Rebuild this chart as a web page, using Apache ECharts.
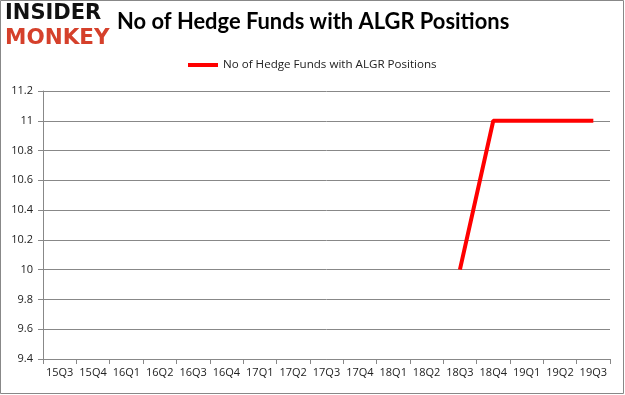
<!DOCTYPE html>
<html><head><meta charset="utf-8">
<script src="https://cdn.jsdelivr.net/npm/echarts@6/dist/echarts.min.js"></script>
<style>html,body{margin:0;padding:0;background:#fff}#c{width:625px;height:395px}</style>
</head><body><div id="c"></div>
<script>
const categories = ['15Q3','15Q4','16Q1','16Q2','16Q3','16Q4','17Q1','17Q2','17Q3','17Q4','18Q1','18Q2','18Q3','18Q4','19Q1','19Q2','19Q3'];
const seriesName = 'No of Hedge Funds with ALGR Positions';
const values = [null,null,null,null,null,null,null,null,null,null,null,null,10,11,11,11,11];
const yTicks = {min: 9.4, max: 11.2, interval: 0.2};

const chart = echarts.init(document.getElementById('c'));
chart.setOption({
  animation: false,
  backgroundColor: '#fff',
  title: {
    text: 'No of Hedge Funds with ALGR Positions',
    left: 117, top: 11, padding: 0,
    textStyle: {fontFamily: 'Lato', fontWeight: 'bold', fontSize: 21.9, color: '#000'}
  },
  graphic: [
    {type: 'rect', shape: {x: 0.5, y: 0.5, width: 623, height: 393}, style: {fill: 'none', stroke: '#888', lineWidth: 1}},
    {type: 'text', left: 5, top: 3, style: {text: 'INSIDER', fontFamily: 'DejaVu Sans', fontWeight: 'bold', fontSize: 21, fill: '#111'}},
    {type: 'text', left: 5, top: 27, style: {text: 'MONKEY', fontFamily: 'DejaVu Sans', fontWeight: 'bold', fontSize: 21.5, fill: '#d5402b'}}
  ],
  legend: {
    data: [seriesName],
    top: 54, left: 183,
    itemWidth: 30, itemHeight: 4, itemGap: 5,
    icon: 'rect',
    textStyle: {fontFamily: 'Open Sans', fontSize: 11.6, color: '#222'}
  },
  grid: {left: 43, right: 15, top: 91, bottom: 36},
  xAxis: {
    type: 'category', data: categories, boundaryGap: true,
    axisLine: {lineStyle: {color: '#888'}},
    axisTick: {show: true, alignWithLabel: false, length: 5, lineStyle: {color: '#888'}},
    axisLabel: {fontFamily: 'Open Sans', fontSize: 11, color: '#222', margin: 8, interval: 0}
  },
  yAxis: {
    type: 'value', min: yTicks.min, max: yTicks.max, interval: yTicks.interval,
    axisLine: {show: true, lineStyle: {color: '#888'}},
    axisTick: {show: true, length: 5, lineStyle: {color: '#888'}},
    splitLine: {lineStyle: {color: '#888'}},
    axisLabel: {fontFamily: 'Open Sans', fontSize: 11, color: '#222', margin: 10,
      formatter: v => String(Math.round(v * 10) / 10)}
  },
  series: [{
    name: seriesName, type: 'line', data: values,
    showSymbol: false, symbol: 'none',
    lineStyle: {color: '#ff0000', width: 4},
    itemStyle: {color: '#ff0000'}
  }]
});
</script></body></html>
